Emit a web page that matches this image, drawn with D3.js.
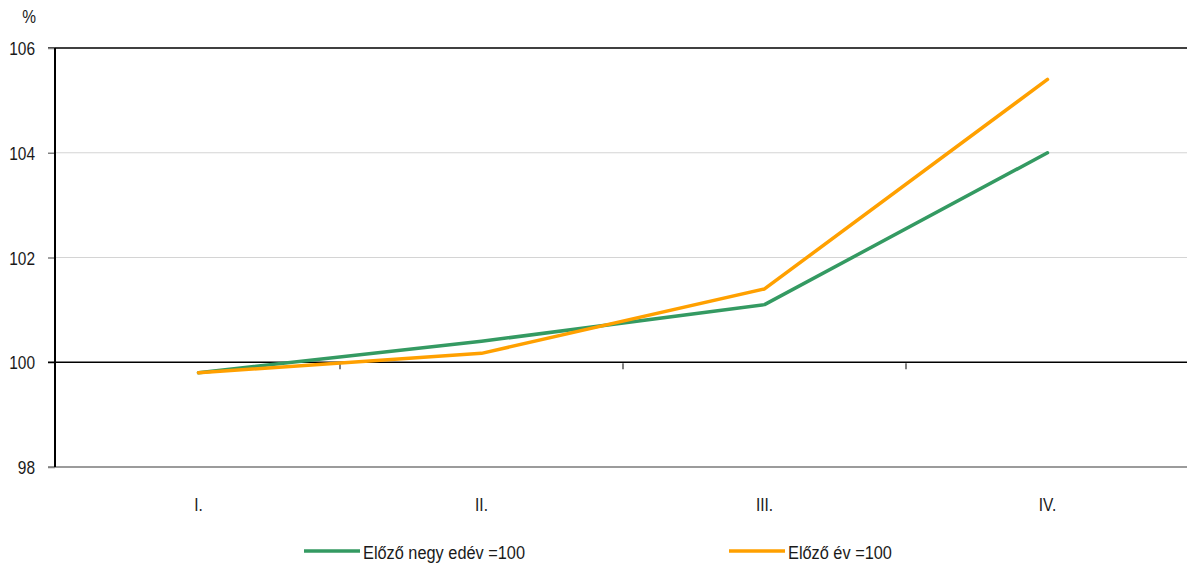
<!DOCTYPE html>
<html>
<head>
<meta charset="utf-8">
<script src="https://cdn.jsdelivr.net/npm/d3@7"></script>
<style>
  html, body { margin: 0; padding: 0; background: #fff; }
  svg text { font-family: "Liberation Sans", Arial, sans-serif; fill: #1a1a1a; }
</style>
</head>
<body>
<svg id="chart" width="1187" height="566"></svg>
<script>
const categories = ["I.", "II.", "III.", "IV."];
const seriesNames = ["Előző negy edév =100", "Előző év =100"];
const quarterOnQuarter = [99.8, 100.4, 101.1, 104.0];
const yearOnYear = [99.8, 100.17, 101.4, 105.4];
const yTicks = [98, 100, 102, 104, 106];
const seriesColors = ["#349a62", "#ffa000"];

(function () {
const svg = d3.select("#chart");
const plotLeft = 55, plotRight = 1187, plotTop = 48, plotBottom = 467;
const SX = 0.86; // horizontal compression of the narrow font

const x = d3.scaleBand().domain(categories).range([57, 1189]).padding(0);
const y = d3.scaleLinear().domain([98, 106]).range([plotBottom, plotTop]);

// gridlines
svg.append("g").selectAll("line").data(yTicks.filter(d => d === 102 || d === 104))
  .join("line")
  .attr("x1", plotLeft).attr("x2", plotRight)
  .attr("y1", d => y(d)).attr("y2", d => y(d))
  .attr("stroke", "#d4d4d4").attr("stroke-width", 1);

// top border line
svg.append("line").attr("x1", 48).attr("x2", plotRight)
  .attr("y1", y(106)).attr("y2", y(106))
  .attr("stroke", "#000").attr("stroke-width", 1.5);

// bottom line at 98
svg.append("line").attr("x1", 48).attr("x2", plotRight)
  .attr("y1", y(98)).attr("y2", y(98))
  .attr("stroke", "#7a7a7a").attr("stroke-width", 1.5);

// y axis
const yAxis = d3.axisLeft(y).tickValues(yTicks).tickSize(7).tickPadding(12).tickFormat(d3.format("d"));
const gy = svg.append("g").attr("transform", `translate(${plotLeft},0)`).call(yAxis);
gy.select(".domain").remove();
gy.selectAll(".tick line").attr("stroke", "#808080").attr("stroke-width", 1.5);
gy.selectAll(".tick text")
  .attr("x", null).attr("dy", null)
  .attr("transform", `translate(-20,6.5) scale(${SX},1)`)
  .attr("font-size", 18)
  .attr("fill", "#1a1a1a").attr("font-family", "Liberation Sans, Arial, sans-serif");

// category axis at 100
const xAxis = d3.axisBottom(x).tickSize(0).tickFormat("");
const gx = svg.append("g").attr("transform", `translate(0,${y(100)})`).call(xAxis);
gx.select(".domain").remove();
gx.append("line").attr("x1", 48).attr("x2", plotRight).attr("y1", 0).attr("y2", 0)
  .attr("stroke", "#000").attr("stroke-width", 1.5);
gx.selectAll(".sep").data(categories.slice(1)).join("line")
  .attr("class", "sep")
  .attr("x1", d => x(d)).attr("x2", d => x(d))
  .attr("y1", 1).attr("y2", 7)
  .attr("stroke", "#808080").attr("stroke-width", 2);

// left axis line
svg.append("line").attr("x1", plotLeft).attr("x2", plotLeft)
  .attr("y1", y(106)).attr("y2", y(98))
  .attr("stroke", "#000").attr("stroke-width", 2);

// category labels
svg.append("g").selectAll("text").data(categories).join("text")
  .attr("transform", d => `translate(${x(d) + x.bandwidth() / 2},511) scale(${SX},1)`)
  .attr("text-anchor", "middle")
  .attr("font-size", 18)
  .text(d => d);

// % label
svg.append("text").attr("transform", `translate(29,23) scale(${SX},1)`).attr("text-anchor", "middle")
  .attr("font-size", 18).text("%");

// lines
const line = d3.line().x((d, i) => x(categories[i]) + x.bandwidth() / 2).y(d => y(d));
[quarterOnQuarter, yearOnYear].forEach((vals, i) => {
  svg.append("path").datum(vals)
    .attr("fill", "none")
    .attr("stroke", seriesColors[i])
    .attr("stroke-width", 3.5)
    .attr("stroke-linejoin", "round")
    .attr("stroke-linecap", "round")
    .attr("d", line);
});

// legend
const legendX = [304, 729];
seriesNames.forEach((name, i) => {
  const g = svg.append("g").attr("transform", `translate(${legendX[i]},551)`);
  g.append("line").attr("x1", 0).attr("x2", 56).attr("y1", 0).attr("y2", 0)
    .attr("stroke", seriesColors[i]).attr("stroke-width", 3.5);
  g.append("text").attr("transform", `translate(59,8) scale(${SX},1)`)
    .attr("font-size", 19)
    .text(name);
});
})();
</script>
</body>
</html>
